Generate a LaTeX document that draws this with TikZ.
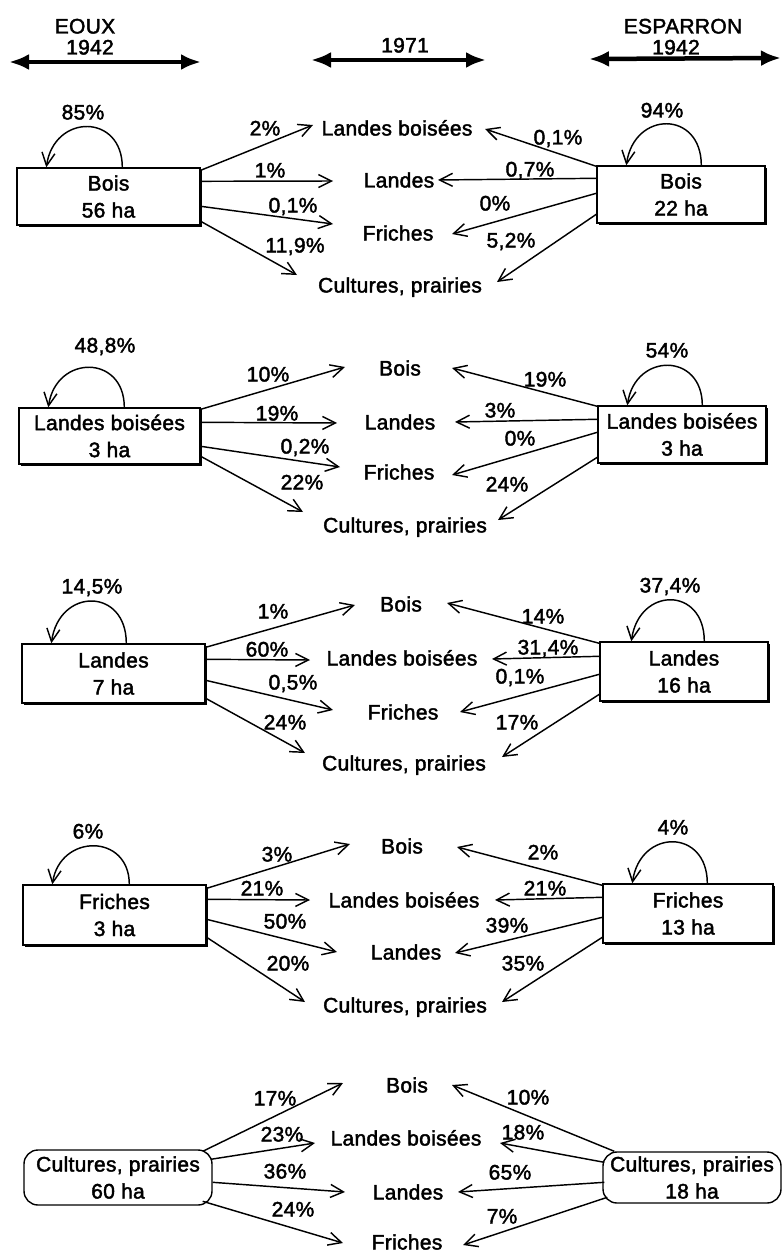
\documentclass[tikz,border=0pt]{standalone}
\usepackage{fontspec}
\setmainfont{Liberation Sans}[LetterSpace=1.5,FakeBold=2]
\usetikzlibrary{arrows.meta,calc,shadows}
\begin{document}
\begin{tikzpicture}[x=1pt,y=-1pt,
  every node/.style={font=\fontsize{21}{27}\selectfont},
  lbl/.style={inner sep=0pt,text height=15pt,text depth=0pt},
  stbox/.style={draw,line width=1.4pt,fill=white,inner sep=0pt,align=center,
    drop shadow={shadow xshift=2pt,shadow yshift=-2pt,fill=black,opacity=1}},
  rbox/.style={draw,line width=1.4pt,fill=white,inner sep=0pt,align=center,rounded corners=14pt},
  conn/.style={line width=1.45pt,-{Straight Barb[length=13pt,width=13pt,line width=1.45pt]}},
  hdr/.style={line width=4.5pt,{Latex[length=20pt,width=16pt]}-{Latex[length=20pt,width=16pt]}}]
\useasboundingbox (0,0) rectangle (783,1252);

% ---------- header
\node[lbl] (hE) at (85,26) {EOUX};
\node[lbl] (hE2) at (90,47) {1942};
\node[lbl] (hM) at (405,45) {1971};
\node[lbl] (hS) at (683,26) {ESPARRON};
\node[lbl] (hS2) at (676,47) {1942};
\coordinate (a1) at (9,62); \coordinate (a2) at (201,62);
\coordinate (b1) at (311,60); \coordinate (b2) at (486,60);
\coordinate (c1) at (589,59); \coordinate (c2) at (781,58);
\draw[hdr] (a1) -- (a2);
\draw[hdr] (b1) -- (b2);
\draw[hdr] (c1) -- (c2);

% ================= block 1
\node[stbox,minimum width=183pt,minimum height=57pt] (L1) at (108.5,196.5) {Bois\\56 ha};
\node[stbox,minimum width=168pt,minimum height=57pt] (R1) at (681,194.5) {Bois\\22 ha};
\node[lbl] (T1a) at (397,128) {Landes boisées};
\node[lbl] (T1b) at (399,180) {Landes};
\node[lbl] (T1c) at (398,233) {Friches};
\node[lbl] (T1d) at (400,285) {Cultures, prairies};
\draw[conn] ($(L1.north west)+(106,0)$) .. controls +(0,-54) and +(8,-54) .. ($(L1.north west)+(30,0)$);
\draw[conn] ($(R1.north west)+(105,0)$) .. controls +(0,-55) and +(8,-55) .. ($(R1.north west)+(30,0)$);
\node[lbl] (p1) at (83,112) {85\%};
\node[lbl] (p2) at (662,110) {94\%};
\draw[conn] ($(L1.north east)+(0,3)$) -- ($(T1a)+(-84,-3)$);
\draw[conn] ($(L1.north east)+(0,14)$) -- ($(T1b)+(-66,1)$);
\draw[conn] ($(L1.north east)+(0,39)$) -- ($(T1c)+(-65,-9)$);
\draw[conn] ($(L1.north east)+(0,54)$) -- ($(T1d)+(-103,-10)$);
\draw[conn] ($(R1.north west)+(0,1)$) -- ($(T1a)+(88,1)$);
\draw[conn] ($(R1.north west)+(0,13)$) -- ($(T1b)+(39,0)$);
\draw[conn] ($(R1.north west)+(0,28)$) -- ($(T1c)+(54,1)$);
\draw[conn] ($(R1.north west)+(0,49)$) -- ($(T1d)+(97,-3)$);
\node[lbl] (q1) at (265,128) {2\%};
\node[lbl] (q2) at (270,170) {1\%};
\node[lbl] (q3) at (293,205) {0,1\%};
\node[lbl] (q4) at (295,245) {11,9\%};
\node[lbl] (r1) at (558,137) {0,1\%};
\node[lbl] (r2) at (530,169) {0,7\%};
\node[lbl] (r3) at (495,203) {0\%};
\node[lbl] (r4) at (511,240) {5,2\%};

% ================= block 2
\node[stbox,minimum width=181pt,minimum height=56pt] (L2) at (109.5,436) {Landes boisées\\3 ha};
\node[stbox,minimum width=168pt,minimum height=57pt] (R2) at (682,434.5) {Landes boisées\\3 ha};
\node[lbl] (T2a) at (400,368) {Bois};
\node[lbl] (T2b) at (400,422) {Landes};
\node[lbl] (T2c) at (399,472) {Friches};
\node[lbl] (T2d) at (405,525) {Cultures, prairies};
\draw[conn] ($(L2.north west)+(106,0)$) .. controls +(0,-53) and +(8,-53) .. ($(L2.north west)+(30,0)$);
\draw[conn] ($(R2.north west)+(105,0)$) .. controls +(0,-53) and +(8,-53) .. ($(R2.north west)+(30,0)$);
\node[lbl] (p3) at (105,345) {48,8\%};
\node[lbl] (p4) at (667,350) {54\%};
\draw[conn] ($(L2.north east)+(0,2)$) -- ($(T2a)+(-55,-1)$);
\draw[conn] ($(L2.north east)+(0,15)$) -- ($(T2b)+(-63,1)$);
\draw[conn] ($(L2.north east)+(0,39)$) -- ($(T2c)+(-59,-5)$);
\draw[conn] ($(L2.north east)+(0,49)$) -- ($(T2d)+(-102,-13)$);
\draw[conn] ($(R2.north west)+(0,1)$) -- ($(T2a)+(52,0)$);
\draw[conn] ($(R2.north west)+(0,14)$) -- ($(T2b)+(55,0)$);
\draw[conn] ($(R2.north west)+(0,27)$) -- ($(T2c)+(53,3)$);
\draw[conn] ($(R2.north west)+(0,52)$) -- ($(T2d)+(93,-5)$);
\node[lbl] (q5) at (268,374) {10\%};
\node[lbl] (q6) at (277,413) {19\%};
\node[lbl] (q7) at (305,446) {0,2\%};
\node[lbl] (q8) at (302,482) {22\%};
\node[lbl] (r5) at (545,379) {19\%};
\node[lbl] (r6) at (500,410) {3\%};
\node[lbl] (r7) at (520,438) {0\%};
\node[lbl] (r8) at (507,484) {24\%};

% ================= block 3
\node[stbox,minimum width=183pt,minimum height=59pt] (L3) at (113.5,673.5) {Landes\\7 ha};
\node[stbox,minimum width=168pt,minimum height=59pt] (R3) at (684,671.5) {Landes\\16 ha};
\node[lbl] (T3a) at (401,604) {Bois};
\node[lbl] (T3b) at (402,658) {Landes boisées};
\node[lbl] (T3c) at (403,712) {Friches};
\node[lbl] (T3d) at (404,763) {Cultures, prairies};
\draw[conn] ($(L3.north west)+(105,0)$) .. controls +(0,-56) and +(8,-56) .. ($(L3.north west)+(30,0)$);
\draw[conn] ($(R3.north west)+(105,0)$) .. controls +(0,-55) and +(8,-55) .. ($(R3.north west)+(32,0)$);
\node[lbl] (p5) at (92,586) {14,5\%};
\node[lbl] (p6) at (670,585) {37,4\%};
\draw[conn] ($(L3.north east)+(0,4)$) -- ($(T3a)+(-46,1)$);
\draw[conn] ($(L3.north east)+(0,16)$) -- ($(T3b)+(-92,2)$);
\draw[conn] ($(L3.north east)+(0,37)$) -- ($(T3c)+(-70,-2)$);
\draw[conn] ($(L3.north east)+(0,55)$) -- ($(T3d)+(-99,-10)$);
\draw[conn] ($(R3.north west)+(0,2)$) -- ($(T3a)+(46,-1)$);
\draw[conn] ($(R3.north west)+(0,15)$) -- ($(T3b)+(90,1)$);
\draw[conn] ($(R3.north west)+(0,33)$) -- ($(T3c)+(57,0)$);
\draw[conn] ($(R3.north west)+(0,53)$) -- ($(T3d)+(98,-6)$);
\node[lbl] (q9) at (273,611) {1\%};
\node[lbl] (q10) at (267,649) {60\%};
\node[lbl] (q11) at (293,682) {0,5\%};
\node[lbl] (q12) at (285,722) {24\%};
\node[lbl] (r9) at (543,616) {14\%};
\node[lbl] (r10) at (548,647) {31,4\%};
\node[lbl] (r11) at (520,676) {0,1\%};
\node[lbl] (r12) at (517,722) {17\%};

% ================= block 4
\node[stbox,minimum width=183pt,minimum height=60pt] (L4) at (114.5,915) {Friches\\3 ha};
\node[stbox,minimum width=170pt,minimum height=59pt] (R4) at (688,913.5) {Friches\\13 ha};
\node[lbl] (T4a) at (402,846) {Bois};
\node[lbl] (T4b) at (404,900) {Landes boisées};
\node[lbl] (T4c) at (406,952) {Landes};
\node[lbl] (T4d) at (405,1005) {Cultures, prairies};
\draw[conn] ($(L4.north west)+(107,0)$) .. controls +(0,-51) and +(8,-51) .. ($(L4.north west)+(30,0)$);
\draw[conn] ($(R4.north west)+(105,0)$) .. controls +(0,-55) and +(8,-55) .. ($(R4.north west)+(30,0)$);
\node[lbl] (p7) at (88,831) {6\%};
\node[lbl] (p8) at (673,827) {4\%};
\draw[conn] ($(L4.north east)+(0,4)$) -- ($(T4a)+(-52,-2)$);
\draw[conn] ($(L4.north east)+(0,15)$) -- ($(T4b)+(-94,0)$);
\draw[conn] ($(L4.north east)+(0,35)$) -- ($(T4c)+(-69,0)$);
\draw[conn] ($(L4.north east)+(0,53)$) -- ($(T4d)+(-100,-3)$);
\draw[conn] ($(R4.north west)+(0,2)$) -- ($(T4a)+(55,1)$);
\draw[conn] ($(R4.north west)+(0,14)$) -- ($(T4b)+(91,0)$);
\draw[conn] ($(R4.north west)+(0,34)$) -- ($(T4c)+(49,1)$);
\draw[conn] ($(R4.north west)+(0,54)$) -- ($(T4d)+(97,-3)$);
\node[lbl] (q13) at (277,854) {3\%};
\node[lbl] (q14) at (262,888) {21\%};
\node[lbl] (q15) at (285,921) {50\%};
\node[lbl] (q16) at (288,963) {20\%};
\node[lbl] (r13) at (543,852) {2\%};
\node[lbl] (r14) at (545,888) {21\%};
\node[lbl] (r15) at (507,925) {39\%};
\node[lbl] (r16) at (523,963) {35\%};

% ================= block 5
\node[rbox,minimum width=188pt,minimum height=55pt] (L5) at (118,1177.5) {Cultures, prairies\\60 ha};
\node[rbox,minimum width=178pt,minimum height=51pt] (R5) at (692,1177.5) {Cultures, prairies\\18 ha};
\node[lbl] (T5a) at (407,1085) {Bois};
\node[lbl] (T5b) at (406,1138) {Landes boisées};
\node[lbl] (T5c) at (408,1192) {Landes};
\node[lbl] (T5d) at (407,1242) {Friches};
\draw[conn] ($(L5.north east)+(-10,2)$) -- ($(T5a)+(-64,-2)$);
\draw[conn] ($(L5.north east)+(-2,10)$) -- ($(T5b)+(-91,5)$);
\draw[conn] ($(L5.north east)+(0,33)$) -- ($(T5c)+(-63,0)$);
\draw[conn] ($(L5.north east)+(-10,52)$) -- ($(T5d)+(-64,1)$);
\draw[conn] ($(R5.north west)+(12,0)$) -- ($(T5a)+(45,0)$);
\draw[conn] ($(R5.north west)+(2,11)$) -- ($(T5b)+(94,5)$);
\draw[conn] ($(R5.north west)+(2,31)$) -- ($(T5c)+(50,0)$);
\draw[conn] ($(R5.north west)+(5,46)$) -- ($(T5d)+(56,3)$);
\node[lbl] (q17) at (275,1098) {17\%};
\node[lbl] (q18) at (282,1134) {23\%};
\node[lbl] (q19) at (285,1171) {36\%};
\node[lbl] (q20) at (293,1209) {24\%};
\node[lbl] (r17) at (528,1097) {10\%};
\node[lbl] (r18) at (523,1132) {18\%};
\node[lbl] (r19) at (510,1172) {65\%};
\node[lbl] (r20) at (502,1216) {7\%};
\end{tikzpicture}
\end{document}
